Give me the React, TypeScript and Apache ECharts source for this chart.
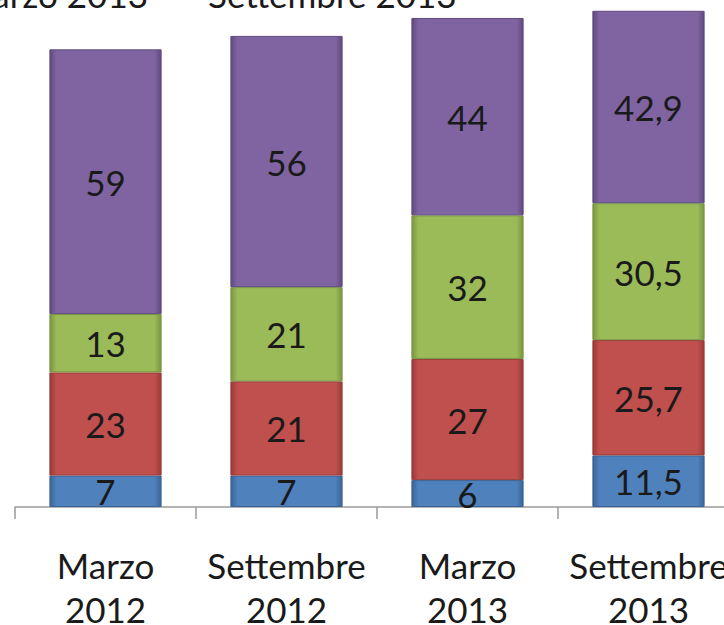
import React, { useEffect, useRef } from "react";
import * as echarts from "echarts";

const categories = ["Marzo\n2012", "Settembre\n2012", "Marzo\n2013", "Settembre\n2013"];
const blueValues = [7, 7, 6, 11.5];
const redValues = [23, 21, 27, 25.7];
const greenValues = [13, 21, 32, 30.5];
const purpleValues = [59, 56, 44, 42.9];
const seriesColors = ["#4F81BD", "#C0504D", "#9BBB59", "#8064A2"];
const borderColors = ["#3A6496", "#9A3B39", "#7A9640", "#5F4A7E"];
const topTexts = ["Marzo 2013", "Settembre 2013"];

const FONT = "Lato";

function fmt(v: number) {
  return String(v).replace(".", ",");
}

export default function App() {
  const ref = useRef<HTMLDivElement>(null);
  useEffect(() => {
    if (!ref.current) return;
    const chart = echarts.init(ref.current, null, { renderer: "svg" });
    const all = [blueValues, redValues, greenValues, purpleValues];
    const series = all.map((vals, i) => ({
      type: "bar",
      stack: "total",
      data: vals,
      barWidth: "62%",
      itemStyle: {
        color: new echarts.graphic.LinearGradient(0, 0, 1, 0, [
          { offset: 0, color: borderColors[i] },
          { offset: 0.06, color: seriesColors[i] },
          { offset: 0.94, color: seriesColors[i] },
          { offset: 1, color: borderColors[i] },
        ]),
        borderColor: borderColors[i],
        borderWidth: 1,
      },
      label: {
        show: true,
        position: "inside",
        formatter: (p: any) => fmt(p.value),
        fontFamily: FONT,
        fontSize: 35,
        color: "#1a1a1a",
      },
    }));
    chart.setOption({
      animation: false,
      grid: { left: 15, right: -15, top: 0, bottom: 118, containLabel: false, outerBoundsMode: "none" },
      xAxis: {
        type: "category",
        data: categories,
        boundaryGap: true,
        axisLine: { show: true, lineStyle: { color: "#9a9a9a", width: 1.5 } },
        axisTick: { show: true, length: 12, lineStyle: { color: "#9a9a9a", width: 1.5 } },
        axisLabel: {
          margin: 36,
          fontFamily: FONT,
          fontSize: 35,
          lineHeight: 44,
          color: "#1a1a1a",
          interval: 0,
        },
      },
      yAxis: {
        type: "value",
        min: 0,
        max: 113,
        show: false,
        splitLine: { show: false },
      },
      graphic: [
        {
          type: "text",
          x: 148,
          y: -24,
          style: { text: topTexts[0], fontFamily: FONT, fontSize: 35, fill: "#1a1a1a", textAlign: "right" },
        },
        {
          type: "text",
          x: 208,
          y: -24,
          style: { text: topTexts[1], fontFamily: FONT, fontSize: 35, fill: "#1a1a1a", textAlign: "left" },
        },
      ],
      series,
    });
    return () => chart.dispose();
  }, []);
  return <div ref={ref} style={{ width: 724, height: 625, position: "absolute", left: 0, top: 0 }} />;
}
